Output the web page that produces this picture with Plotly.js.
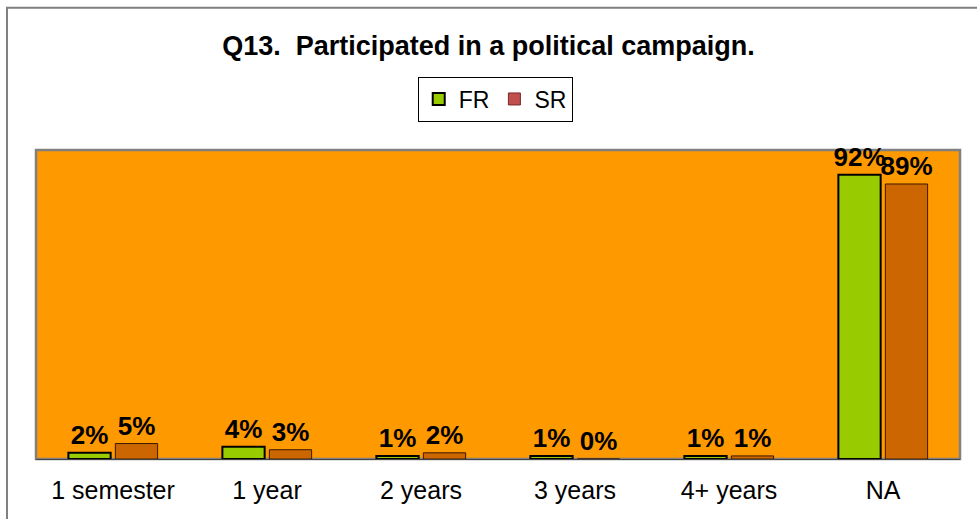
<!DOCTYPE html>
<html><head><meta charset="utf-8">
<script src="https://cdn.plot.ly/plotly-3.0.1.min.js"></script>
<style>body{margin:0;background:#fff}#chart{width:977px;height:519px}</style>
</head><body><div id="chart"></div>
<script>
const categories = ["1 semester", "1 year", "2 years", "3 years", "4+ years", "NA"];
const frValues = [2, 4, 1, 1, 1, 92];
const srValues = [5, 3, 2, 0, 1, 89];

const labelFont = {family: "Liberation Sans, Arial, sans-serif", size: 26, color: "#000"};
const traces = [
  {type: "bar", x: categories, y: frValues, name: "FR", showlegend: false,
   marker: {color: "#99cc00", line: {color: "#000", width: 2}},
   texttemplate: "<b>%{y}%</b>", textposition: "outside", textfont: labelFont,
   constraintext: "none", cliponaxis: false, hoverinfo: "skip"},
  {type: "bar", x: categories, y: srValues, name: "SR", showlegend: false,
   marker: {color: "#cc6600", line: {color: "#3a1a00", width: 1}},
   texttemplate: "<b>%{y}%</b>", textposition: "outside", textfont: labelFont,
   constraintext: "none", cliponaxis: false, hoverinfo: "skip"},
  {type: "bar", x: [null], y: [null], name: "FR", xaxis: "x2", yaxis: "y2",
   marker: {color: "#99cc00", line: {color: "#000", width: 2}}},
  {type: "bar", x: [null], y: [null], name: "SR", xaxis: "x2", yaxis: "y2",
   marker: {color: "#c0504d", line: {color: "#7a2a28", width: 1}}}
];

const layout = {
  width: 977, height: 519,
  margin: {l: 36, r: 17, t: 150, b: 60},
  paper_bgcolor: "#fff", plot_bgcolor: "#ff9900",
  font: {family: "Liberation Sans, Arial, sans-serif", color: "#000"},
  title: {text: "<b>Q13.  Participated in a political campaign.</b>",
          font: {size: 27, family: "Liberation Sans, Arial, sans-serif"},
          x: 0.5, xanchor: "center", y: 0.913, yanchor: "middle"},
  barmode: "group", bargap: 0.39, bargroupgap: 0.1,
  showlegend: true,
  legend: {orientation: "h", x: 0.497, xanchor: "center", y: 1.165, yanchor: "middle",
           bgcolor: "#fff", bordercolor: "#000", borderwidth: 1,
           font: {size: 23}, itemwidth: 30, traceorder: "normal"},
  xaxis: {type: "category", showgrid: false, zeroline: false,
          showline: true, linecolor: "#444", linewidth: 1,
          ticks: "", tickfont: {size: 25}, ticklabelstandoff: 9, fixedrange: true},
  yaxis: {range: [0, 100], visible: false, showgrid: false, zeroline: false, fixedrange: true},
  xaxis2: {overlaying: "x", visible: false, range: [0, 1]},
  yaxis2: {overlaying: "y", visible: false, range: [0, 1]},
  shapes: [
    {type: "rect", xref: "paper", yref: "paper", x0: 0, x1: 1, y0: 0, y1: 1,
     line: {color: "#808080", width: 2.5}, layer: "below"},
    {type: "rect", xref: "paper", yref: "paper", x0: -0.0314, x1: 1.05, y0: -0.5, y1: 1.46,
     line: {color: "#808080", width: 2}, fillcolor: "rgba(0,0,0,0)"}
  ]
};
Plotly.newPlot("chart", traces, layout, {displayModeBar: false, staticPlot: true});
</script></body></html>
